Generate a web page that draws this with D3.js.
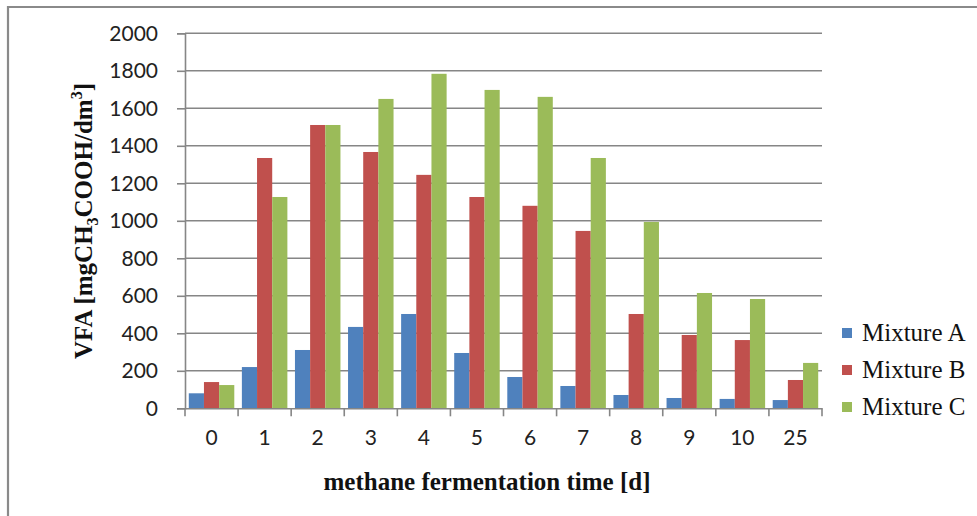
<!DOCTYPE html>
<html>
<head>
<meta charset="utf-8">
<script src="https://cdn.jsdelivr.net/npm/d3@7/dist/d3.min.js"></script>
<style>
  html, body { margin: 0; padding: 0; background: #fff; }
  svg { display: block; }
</style>
</head>
<body>
<svg id="chart" width="977" height="516"></svg>
<script>
// VFA concentration over the methane fermentation period
const days = ["0", "1", "2", "3", "4", "5", "6", "7", "8", "9", "10", "25"];
const seriesNames = ["Mixture A", "Mixture B", "Mixture C"];
const mixtureA = [80, 220, 311, 434, 503, 295, 167, 119, 71, 55, 50, 44];
const mixtureB = [140, 1335, 1511, 1367, 1245, 1127, 1080, 946, 503, 391, 364, 151];
const mixtureC = [124, 1127, 1511, 1650, 1784, 1698, 1661, 1335, 994, 615, 583, 242];
const yTicks = [0, 200, 400, 600, 800, 1000, 1200, 1400, 1600, 1800, 2000];
const colors = ["#4f81bd", "#c0504d", "#9bbb59"];

const seriesValues = [mixtureA, mixtureB, mixtureC];
const rows = days.map((d, i) => ({ day: d, values: seriesValues.map(s => s[i]) }));

const svg = d3.select("#chart");
const plot = { left: 185, right: 822, top: 33.3, bottom: 408.3 };
const gridColor = "#868686";

// outer frame (top and left edges visible)
svg.append("line").attr("x1", 8).attr("x2", 977).attr("y1", 7).attr("y2", 7)
  .attr("stroke", "#8a8a8a").attr("stroke-width", 2.2);
svg.append("line").attr("x1", 8).attr("x2", 8).attr("y1", 6).attr("y2", 516)
  .attr("stroke", "#8a8a8a").attr("stroke-width", 2.2);

const x = d3.scaleBand().domain(days).range([plot.left, plot.right]).paddingInner(0).paddingOuter(0);
const inner = d3.scaleBand().domain(seriesNames).range([0, x.bandwidth()]).paddingInner(0).paddingOuter(0.25);
const y = d3.scaleLinear().domain([0, 2000]).range([plot.bottom, plot.top]);

// horizontal gridlines
svg.append("g").selectAll("line").data(yTicks.filter(t => t > 0)).join("line")
  .attr("x1", plot.left).attr("x2", plot.right)
  .attr("y1", d => y(d)).attr("y2", d => y(d))
  .attr("stroke", gridColor).attr("stroke-width", 1.6);

// bars
svg.append("g").selectAll("g").data(rows).join("g")
  .attr("transform", d => `translate(${x(d.day)},0)`)
  .selectAll("rect").data(d => d.values.map((v, k) => ({ v, k }))).join("rect")
  .attr("x", d => inner(seriesNames[d.k]))
  .attr("width", inner.bandwidth())
  .attr("y", d => y(d.v))
  .attr("height", d => y(0) - y(d.v))
  .attr("fill", d => colors[d.k]);

// y axis
const yAxis = d3.axisLeft(y).tickValues(yTicks).tickSize(8).tickPadding(19).tickFormat(d3.format("d"));
const gy = svg.append("g").attr("transform", `translate(${plot.left},0)`).call(yAxis);
gy.select(".domain").attr("stroke", gridColor).attr("stroke-width", 1.6);
gy.selectAll(".tick line").attr("stroke", gridColor).attr("stroke-width", 1.6);
gy.selectAll(".tick text").attr("font-family", "Lato, 'Open Sans', sans-serif")
  .attr("font-size", 21).attr("fill", "#222");

// x axis
const xAxis = d3.axisBottom(x).tickSize(0).tickPadding(22);
const gx = svg.append("g").attr("transform", `translate(0,${plot.bottom})`).call(xAxis);
gx.select(".domain").attr("stroke", gridColor).attr("stroke-width", 1.6);
gx.selectAll(".tick text").attr("font-family", "Lato, 'Open Sans', sans-serif")
  .attr("font-size", 21).attr("fill", "#222");
// category separator ticks
gx.append("g").selectAll("line").data(days.concat(["end"])).join("line")
  .attr("x1", (d, i) => i < days.length ? x(d) : plot.right)
  .attr("x2", (d, i) => i < days.length ? x(d) : plot.right)
  .attr("y1", 0).attr("y2", 8)
  .attr("stroke", gridColor).attr("stroke-width", 1.6);

// axis titles
const serif = "'Liberation Serif', 'Times New Roman', serif";
const yTitle = svg.append("text")
  .attr("transform", `translate(92,221) rotate(-90)`)
  .attr("text-anchor", "middle")
  .attr("font-family", serif).attr("font-weight", "bold").attr("font-size", 25).attr("fill", "#111");
yTitle.append("tspan").text("VFA [mgCH");
yTitle.append("tspan").text("3").attr("font-size", 16).attr("dy", 6);
yTitle.append("tspan").text("COOH/dm").attr("dy", -6);
yTitle.append("tspan").text("3").attr("font-size", 16).attr("dy", -10);
yTitle.append("tspan").text("]").attr("dy", 10);

svg.append("text")
  .attr("x", 487).attr("y", 490)
  .attr("text-anchor", "middle")
  .attr("font-family", serif).attr("font-weight", "bold").attr("font-size", 25).attr("fill", "#111")
  .text("methane fermentation time [d]");

// legend
const legend = svg.append("g").selectAll("g").data(seriesNames).join("g")
  .attr("transform", (d, i) => `translate(842,${333 + i * 37})`);
legend.append("rect").attr("x", 0).attr("y", -5).attr("width", 10).attr("height", 10)
  .attr("fill", (d, i) => colors[i]);
legend.append("text").attr("x", 20).attr("y", 8)
  .attr("font-family", serif).attr("font-size", 25).attr("fill", "#111")
  .text(d => d);
</script>
</body>
</html>
